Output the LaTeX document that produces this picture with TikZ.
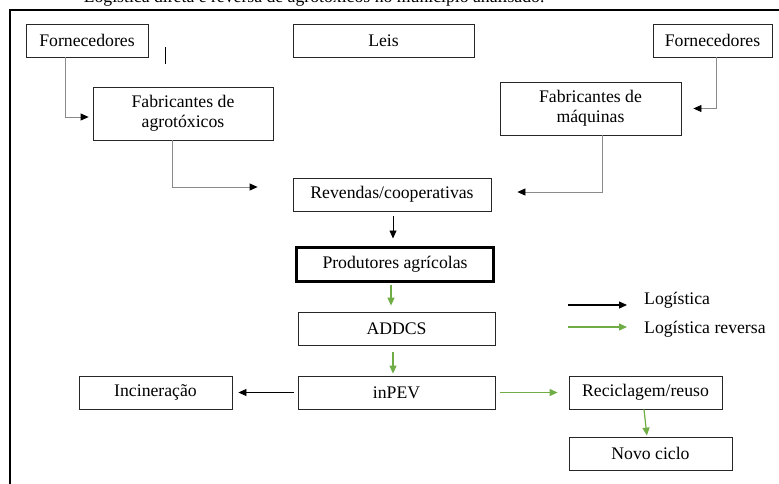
\documentclass[tikz,border=0pt]{standalone}
\usepackage{fontspec}
\setmainfont{Liberation Serif}
\usetikzlibrary{calc,arrows.meta}
\definecolor{linkgray}{HTML}{8A8A8A}
\definecolor{revgreen}{HTML}{70AD47}

\begin{document}
\begin{tikzpicture}[x=1pt, y=-1pt,
        box/.style={draw=black!85, line width=0.8pt, fill=white, align=center,
                    inner sep=0pt, minimum height=33pt, font=\fontsize{17.7}{20}\selectfont},
        tall/.style={box, minimum height=53pt},
        main/.style={box, line width=3pt, draw=black, minimum height=34pt},
        lbl/.style={inner sep=0pt, font=\fontsize{17.7}{20}\selectfont},
        arrow/.style={-{Triangle[length=8pt,width=7pt,color=black]}, draw=linkgray, line width=0.8pt},
        blackarrow/.style={-{Triangle[length=8pt,width=7pt]}, draw=black, line width=0.8pt},
        greenarrow/.style={-{Triangle[length=8pt,width=7pt]}, draw=revgreen, line width=1.2pt}
      ]
        \clip (0,0) rectangle (779,483);
        % moldura e legenda cortada
        \draw[line width=1.8pt] (779,10) -- (10,10) -- (10,490);
        \node[lbl, anchor=base east] (caption) at (545,2) {Logística direta e reversa de agrotóxicos no município analisado:};

        \node[box, minimum width=122pt] (forn1)   at (87,40.5)   {Fornecedores};
        \node[box, minimum width=181pt] (leis)    at (383.5,40.5) {Leis};
        \node[box, minimum width=119pt] (forn2)   at (712.5,40.5) {Fornecedores};
        \node[tall, minimum width=180pt] (fabagro) at (183,113.5)  {Fabricantes de\\agrotóxicos};
        \node[tall, minimum width=181pt] (fabmaq)  at (590.5,108.5) {Fabricantes de\\máquinas};
        \node[box, minimum width=198pt] (rev)     at (392,194.5)  {Revendas/cooperativas};
        \node[main, minimum width=197pt] (prod)   at (395,264)    {Produtores agrícolas};
        \node[box, minimum width=197pt] (addcs)   at (396.5,328.5) {ADDCS};
        \node[box, minimum width=197pt] (inpev)   at (396.5,392.5) {inPEV};
        \node[box, minimum width=153pt] (incin)   at (155.5,392.5) {Incineração};
        \node[box, minimum width=153pt] (recic)   at (645.5,392.5) {Reciclagem/reuso};
        \node[box, minimum width=163pt] (novo)    at (650.5,453.5) {Novo ciclo};

        % traço solto
        \draw[line width=1pt] (165,47) -- (165,64);

        % logística direta
        \draw[arrow, shorten >=4pt] ([xshift=-22pt]forn1.south) |- ([yshift=-3.5pt]fabagro.west);
        \draw[arrow, shorten >=12pt] ([xshift=3.5pt]forn2.south) |- (fabmaq.east);
        \draw[arrow, shorten >=35pt] ([xshift=-11pt]fabagro.south) |- ([yshift=7.5pt]rev.west);
        \draw[arrow, shorten >=26pt] ([xshift=11.5pt]fabmaq.south) |- ([yshift=2.5pt]rev.east);
        \draw[blackarrow, shorten <=5pt, shorten >=7pt] ([xshift=1pt]rev.south) -- ([xshift=-2pt]prod.north);
        \draw[blackarrow, shorten <=4pt, shorten >=6pt] (inpev.west) -- (incin.east);

        % logística reversa
        \draw[greenarrow, shorten <=2pt, shorten >=6pt] ([xshift=-4pt]prod.south) -- ([xshift=-5.5pt]addcs.north);
        \draw[greenarrow, shorten <=7pt, shorten >=2pt] ([xshift=-3.5pt]addcs.south) -- ([xshift=-3.5pt]inpev.north);
        \draw[greenarrow, shorten <=5pt, shorten >=11pt] (inpev.east) -- (recic.west);
        \draw[greenarrow, shorten >=1pt] ([xshift=-1.5pt]recic.south) -- ([xshift=-3.5pt]novo.north);

        % legenda
        \coordinate (keyA) at (568,305);
        \coordinate (keyB) at (568,327);
        \node[lbl, anchor=base west] (keylog) at (644,304) {Logística};
        \node[lbl, anchor=base west] (keyrev) at (644,333) {Logística reversa};
        \draw[blackarrow, line width=1.2pt] (keyA) -- (keyA -| 627,0);
        \draw[greenarrow] (keyB) -- (keyB -| 627,0);
      \end{tikzpicture}
\end{document}
